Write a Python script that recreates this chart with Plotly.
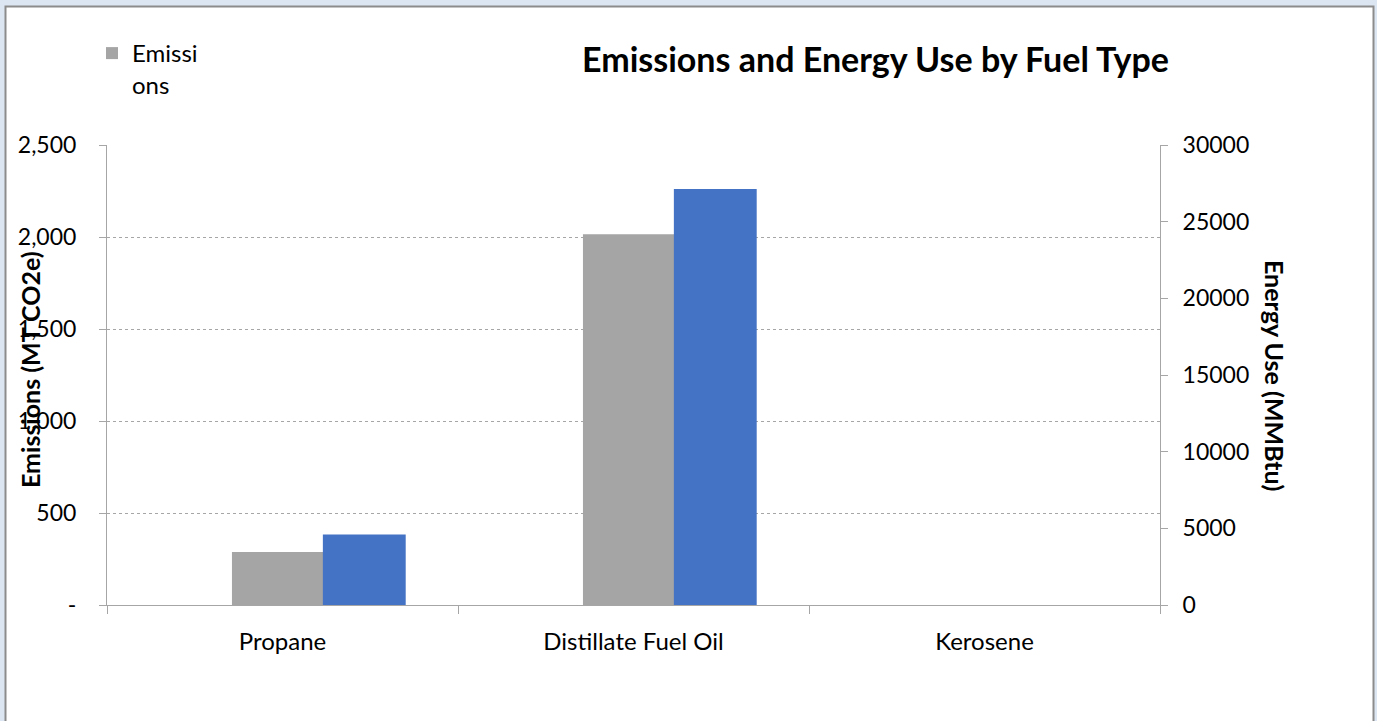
import plotly.graph_objects as go

# Fuel categories and their values
fuels = ["Propane", "Distillate Fuel Oil", "Kerosene"]
emissions = [288, 2015, 0]          # MT CO2e (left axis)
energy_use = [4590, 27130, 0]       # MMBtu (right axis)

left_ticks = [0, 500, 1000, 1500, 2000, 2500]
left_tick_text = ["-", "500", "1,000", "1,500", "2,000", "2,500"]
right_ticks = [0, 5000, 10000, 15000, 20000, 25000, 30000]
right_tick_text = [str(v) for v in right_ticks]

FONT = "Lato"
AXIS_GREY = "#a6a6a6"

fig = go.Figure()

fig.add_trace(go.Bar(
    x=fuels, y=emissions, name="Emissi<br>ons",
    marker=dict(color="#a5a5a5", line=dict(width=0)),
    offset=-0.144, width=0.26, yaxis="y",
))
fig.add_trace(go.Bar(
    x=fuels, y=energy_use, name="Energy Use",
    marker=dict(color="#4472c4", line=dict(width=0)),
    offset=0.115, width=0.236, yaxis="y2", showlegend=False,
))

L, R, T, B = 107, 217, 145, 116
W, H = 1377, 721
pw, ph = W - L - R, H - T - B


def px_x(px):
    return (px - L) / pw


def px_y(py):
    return (H - B - py) / ph


fig.update_layout(
    width=W, height=H,
    margin=dict(l=L, r=R, t=T, b=B, autoexpand=False),
    paper_bgcolor="#dce6f2",
    plot_bgcolor="white",
    font=dict(family=FONT, size=22, color="black"),
    barmode="overlay",
    showlegend=True,
    legend=dict(
        x=px_x(92), y=px_y(31), xanchor="left", yanchor="top",
        bgcolor="rgba(0,0,0,0)", valign="top",
        font=dict(family=FONT, size=24, color="black"),
    ),
    xaxis=dict(
        type="category", range=[-0.5, 2.5],
        showline=True, linecolor=AXIS_GREY, linewidth=1,
        ticks="outside", tickson="boundaries", ticklen=8, tickcolor=AXIS_GREY,
        ticklabelstandoff=15, showgrid=False,
        tickfont=dict(family=FONT, size=24, color="black"),
    ),
    yaxis=dict(
        range=[0, 2500], tickvals=left_ticks, ticktext=left_tick_text,
        showline=True, linecolor=AXIS_GREY, linewidth=1,
        ticks="outside", ticklen=7, tickcolor=AXIS_GREY,
        showgrid=True, gridcolor=AXIS_GREY, griddash="dot", gridwidth=1,
        zeroline=False, ticklabelstandoff=18,
        tickfont=dict(family=FONT, size=23, color="black"),
    ),
    yaxis2=dict(
        range=[0, 30000], tickvals=right_ticks, ticktext=right_tick_text,
        overlaying="y", side="right",
        showline=True, linecolor=AXIS_GREY, linewidth=1,
        ticks="outside", ticklen=7, tickcolor=AXIS_GREY,
        showgrid=False, zeroline=False, ticklabelstandoff=10,
        tickfont=dict(family=FONT, size=23, color="black"),
    ),
    shapes=[
        dict(type="rect", xref="paper", yref="paper", layer="below",
             x0=px_x(5.5), x1=px_x(1373.5), y0=px_y(760), y1=px_y(6.5),
             fillcolor="white", line=dict(color="#8c8c8c", width=2)),
    ],
    annotations=[
        dict(text="<b>Emissions and Energy Use by Fuel Type</b>",
             xref="paper", yref="paper", x=px_x(875), y=px_y(58),
             xanchor="center", yanchor="middle", showarrow=False,
             font=dict(family=FONT, size=34, color="black")),
        dict(text="<b>Emissions (MT CO2e)</b>",
             xref="paper", yref="paper", x=px_x(30), y=px_y(370),
             xanchor="center", yanchor="middle", showarrow=False,
             textangle=-90, font=dict(family=FONT, size=25, color="black")),
        dict(text="<b>Energy Use (MMBtu)</b>",
             xref="paper", yref="paper", x=px_x(1275), y=px_y(375),
             xanchor="center", yanchor="middle", showarrow=False,
             textangle=90, font=dict(family=FONT, size=25, color="black")),
    ],
)

fig.write_html("out.html")
